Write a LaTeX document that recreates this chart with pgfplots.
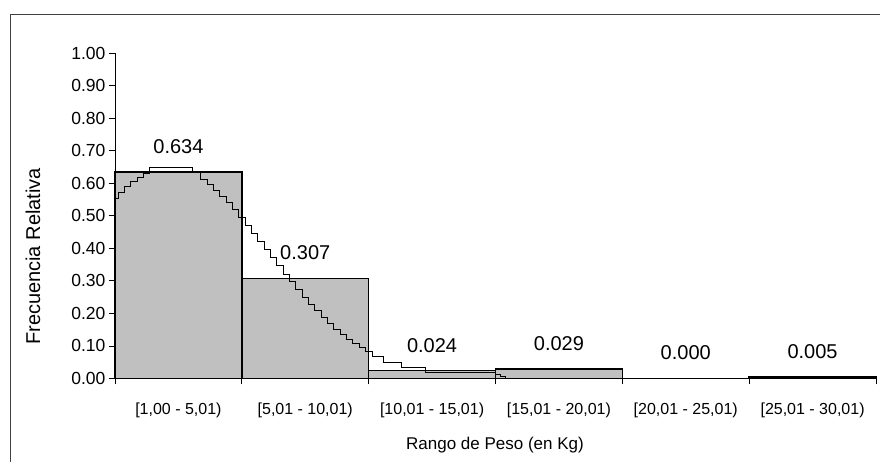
\documentclass[border=0pt]{standalone}
\usepackage{fontspec}
\setmainfont{Liberation Sans}
\usepackage{pgfplots}
\pgfplotsset{compat=1.18}
\definecolor{barfill}{RGB}{192,192,192}
\begin{document}
\begin{tikzpicture}
\path[use as bounding box] (-115pt,-83.5pt) rectangle (765pt,378.5pt);
\draw[black!75, line width=1pt] (-104pt,-120pt) rectangle (800pt,363.5pt);
\begin{axis}[
  at={(0pt,0pt)}, anchor=south west,
  scale only axis, width=761pt, height=325.5pt,
  xmin=0, xmax=6, ymin=0, ymax=1,
  axis lines=left, axis line style={-, line width=0.8pt},
  tick align=outside, major tick length=6pt,
  tick style={black, line width=0.8pt},
  xtick={0,1,2,3,4,5,6}, xticklabels={},
  extra x ticks={0.5,1.5,2.5,3.5,4.5,5.5},
  extra x tick labels={{[1,00 - 5,01)},{[5,01 - 10,01)},{[10,01 - 15,01)},{[15,01 - 20,01)},{[20,01 - 25,01)},{[25,01 - 30,01)}},
  extra x tick style={tick style={draw=none}, xticklabel style={yshift=-15pt}},
  ytick={0,0.1,0.2,0.3,0.4,0.5,0.6,0.7,0.8,0.9,1},
  yticklabel style={/pgf/number format/fixed, /pgf/number format/fixed zerofill, /pgf/number format/precision=2, font=\fontsize{17.5}{20}\selectfont},
  xticklabel style={font=\fontsize{16}{19}\selectfont},
  /pgf/number format/assume math mode=true,
  clip=false,
]
\addplot[ybar, bar width=1, bar shift=0pt, fill=barfill, draw=black, line width=1.4pt]
  coordinates {(0.5,0.634) (1.5,0.307) (2.5,0.024) (3.5,0.029) (5.5,0.005)};
\addplot[const plot, black, line width=0.8pt, mark=none]
  coordinates {(0,0.5535) (0.025,0.5728) (0.075,0.5902) (0.125,0.6057) (0.175,0.6190) (0.225,0.6299)
  (0.275,0.6480) (0.575,0.6480) (0.61,0.6340) (0.675,0.6108) (0.725,0.5960) (0.775,0.5793)
  (0.825,0.5607) (0.875,0.5403) (0.925,0.5186) (0.975,0.4957) (1.025,0.4717) (1.075,0.4471)
  (1.125,0.4220) (1.175,0.3966) (1.225,0.3712) (1.275,0.3460) (1.325,0.3211) (1.375,0.2968)
  (1.425,0.2732) (1.475,0.2504) (1.525,0.2286) (1.575,0.2078) (1.625,0.1880) (1.675,0.1695)
  (1.725,0.1521) (1.775,0.1359) (1.825,0.1210) (1.875,0.1073) (1.925,0.0947) (1.975,0.0832)
  (2.03,0.069) (2.12,0.050) (2.26,0.035) (2.45,0.018) (3.0,0.012) (3.04,0.006) (3.08,0.0) (3.1,0.0)};
\addplot[draw=none, mark=none,
  nodes near coords={\pgfmathprintnumber[fixed,fixed zerofill,precision=3]{\pgfplotspointmeta}},
  every node near coord/.append style={anchor=center, yshift=25.5pt, font=\fontsize{20}{24}\selectfont}]
  coordinates {(0.5,0.634) (1.5,0.307) (2.5,0.024) (3.5,0.029) (4.5,0.000) (5.5,0.005)};
\end{axis}
\node[rotate=90, font=\fontsize{20}{24}\selectfont] at (-82pt,122pt) {Frecuencia Relativa};
\node[font=\fontsize{17}{20}\selectfont] at (380pt,-66.5pt) {Rango de Peso (en Kg)};
\end{tikzpicture}
\end{document}
